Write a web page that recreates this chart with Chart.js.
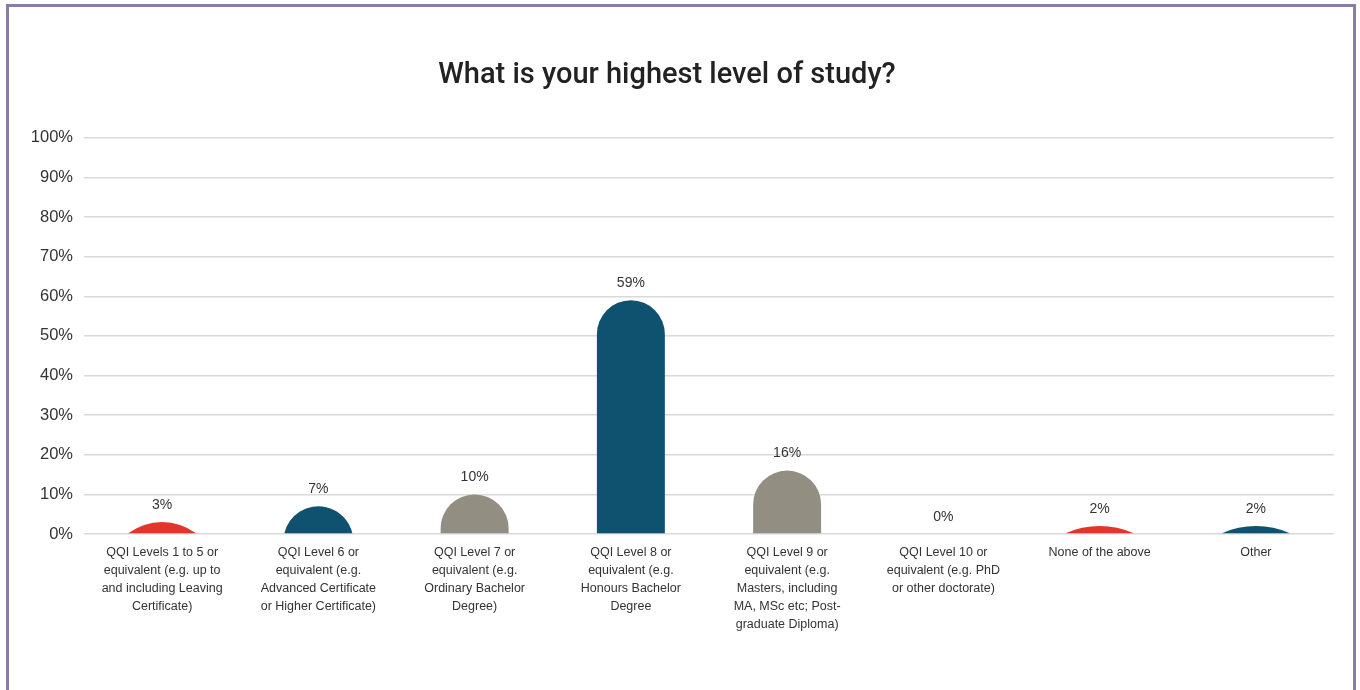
<!DOCTYPE html>
<html>
<head>
<meta charset="utf-8">
<title>What is your highest level of study?</title>
<script src="https://cdn.jsdelivr.net/npm/chart.js@4.4.1/dist/chart.umd.min.js"></script>
<style>
  html, body { margin: 0; padding: 0; background: #fff; }
  #frame {
    position: absolute; left: 6px; top: 4px; width: 1344px; height: 700px;
    border: 3px solid #8b7ba8; border-bottom: none;
  }
  #wrap { position: absolute; left: 0; top: 0; width: 1360px; height: 690px; }
</style>
</head>
<body>
<div id="frame"></div>
<div id="wrap"><canvas id="studyChart"></canvas></div>
<script>
// Survey: highest level of study (share of respondents, %)
const levels = [
    ['QQI Levels 1 to 5 or', 'equivalent (e.g. up to', 'and including Leaving', 'Certificate)'],
    ['QQI Level 6 or', 'equivalent (e.g.', 'Advanced Certificate', 'or Higher Certificate)'],
    ['QQI Level 7 or', 'equivalent (e.g.', 'Ordinary Bachelor', 'Degree)'],
    ['QQI Level 8 or', 'equivalent (e.g.', 'Honours Bachelor', 'Degree'],
    ['QQI Level 9 or', 'equivalent (e.g.', 'Masters, including', 'MA, MSc etc; Post-', 'graduate Diploma)'],
    ['QQI Level 10 or', 'equivalent (e.g. PhD', 'or other doctorate)'],
    'None of the above',
    'Other'
];
const shares = [3, 7, 10, 59, 16, 0, 2, 2];
const barColors = ['#e3352c', '#0e5270', '#928f82', '#0e5270', '#928f82', '#e3352c', '#e3352c', '#0e5270'];

// Bars with a round cap: a half circle on tall bars, a circle segment on short ones
const domeBars = {
    id: 'domeBars',
    beforeDatasetDraw(chart, args) {
        const ctx = chart.ctx;
        const meta = args.meta;
        const colors = meta.controller.getDataset().backgroundColor;
        meta.data.forEach((el, i) => {
            const p = el.getProps(['x', 'y', 'base', 'width'], true);
            const h = p.base - p.y;
            if (h <= 0.5) return;
            const r = p.width / 2;
            ctx.save();
            ctx.fillStyle = colors[i];
            ctx.beginPath();
            if (h >= r) {
                ctx.moveTo(p.x - r, p.base);
                ctx.lineTo(p.x - r, p.y + r);
                ctx.arc(p.x, p.y + r, r, Math.PI, 0);
                ctx.lineTo(p.x + r, p.base);
            } else {
                const R = (r * r + h * h) / (2 * h);
                const cy = p.y + R;
                const a1 = Math.atan2(p.base - cy, -r);
                const a2 = Math.atan2(p.base - cy, r);
                ctx.moveTo(p.x - r, p.base);
                ctx.arc(p.x, cy, R, a1, a2);
            }
            ctx.closePath();
            ctx.fill();
            ctx.restore();
        });
        return false;
    },
    afterDatasetsDraw(chart) {
        const ctx = chart.ctx;
        const meta = chart.getDatasetMeta(0);
        ctx.save();
        ctx.font = '14px "Liberation Sans", Arial, sans-serif';
        ctx.fillStyle = '#333';
        ctx.textAlign = 'center';
        ctx.textBaseline = 'bottom';
        meta.data.forEach((el, i) => {
            ctx.fillText(shares[i] + '%', el.x, el.y - 10);
        });
        ctx.restore();
    }
};

new Chart(document.getElementById('studyChart').getContext('2d'), {
    type: 'bar',
    data: {
        labels: levels,
        datasets: [{
            data: shares,
            backgroundColor: barColors,
            categoryPercentage: 1,
            barPercentage: 0.435
        }]
    },
    options: {
        responsive: true,
        maintainAspectRatio: false,
        animation: false,
        layout: { padding: { top: 0, right: 26, bottom: 0, left: 0 } },
        plugins: {
            legend: { display: false },
            tooltip: { enabled: false },
            title: {
                display: true,
                text: 'What is your highest level of study?',
                color: '#222',
                font: { family: 'Roboto', size: 29, weight: '500', lineHeight: 1.2 },
                padding: { top: 58, bottom: 45 }
            }
        },
        scales: {
            x: {
                grid: { display: false, drawTicks: false },
                border: { display: false },
                ticks: {
                    color: '#333',
                    font: { family: '"Liberation Sans", Arial, sans-serif', size: 12.5, lineHeight: 1.45 },
                    padding: 9,
                    autoSkip: false,
                    maxRotation: 0,
                    minRotation: 0
                },
                afterFit(scale) { scale.height = 156; }
            },
            y: {
                min: 0,
                max: 100,
                grid: { color: '#d9d9d9', lineWidth: 1.5, drawTicks: false },
                border: { display: false },
                ticks: {
                    stepSize: 10,
                    color: '#333',
                    font: { family: '"Liberation Sans", Arial, sans-serif', size: 16.5 },
                    padding: 11,
                    callback: v => v + '%'
                },
                afterFit(scale) { scale.width = 84; }
            }
        }
    },
    plugins: [domeBars]
});
</script>
</body>
</html>
